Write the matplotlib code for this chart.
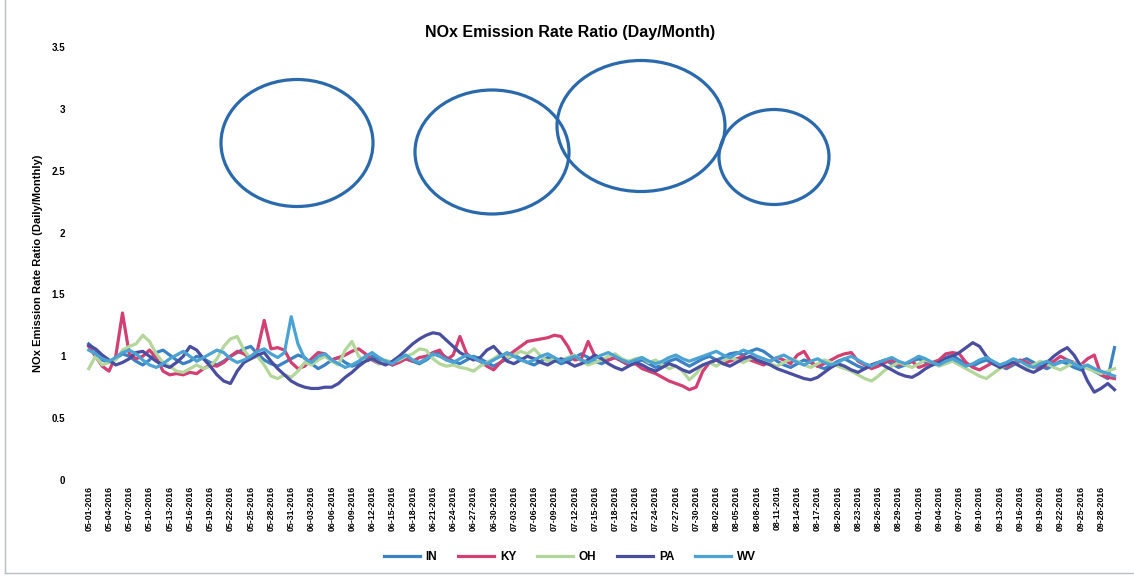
"""
NOx emission rate ratio (day/month) for five states, May-Sep 2016.
"""
import matplotlib

matplotlib.use("Agg")
import matplotlib.pyplot as plt
import pandas as pd
from matplotlib.lines import Line2D
from matplotlib.patches import Ellipse

plt.rcParams["font.family"] = ["Liberation Sans", "DejaVu Sans"]

DATES = pd.date_range("2016-05-01", "2016-09-30", freq="D")
TICK_DATES = DATES[::3]
TICK_LABELS = [d.strftime("%m-%d-%Y") for d in TICK_DATES]

IN = [1.10, 1.05, 0.97, 0.95, 0.98, 1.02, 1.00, 0.96, 0.93, 0.97,
      1.03, 1.05, 1.01, 0.97, 0.94, 0.96, 1.00, 0.98, 0.95, 0.93,
      0.96, 1.00, 1.03, 1.06, 1.08, 1.02, 0.97, 0.94, 0.92, 0.95,
      0.98, 1.01, 0.99, 0.94, 0.90, 0.93, 0.97, 0.99, 0.95, 0.92,
      0.94, 0.97, 1.00, 0.98, 0.95, 0.93, 0.96, 0.98, 0.96, 0.94,
      0.97, 1.01, 1.03, 0.99, 0.96, 0.94, 0.97, 1.00, 0.98, 0.95,
      0.92, 0.95, 0.98, 1.01, 0.98, 0.95, 0.93, 0.96, 0.99, 0.97,
      0.94, 0.96, 0.99, 1.02, 0.99, 0.96, 0.94, 0.97, 0.99, 0.96,
      0.93, 0.95, 0.97, 0.94, 0.91, 0.93, 0.96, 0.98, 0.95, 0.92,
      0.95, 0.98, 1.00, 0.97, 0.99, 1.02, 1.03, 1.01, 1.04, 1.06,
      1.04, 1.00, 0.96, 0.93, 0.91, 0.94, 0.97, 0.95, 0.92, 0.90,
      0.93, 0.96, 0.98, 0.95, 0.92, 0.90, 0.93, 0.95, 0.97, 0.94,
      0.91, 0.93, 0.96, 0.98, 0.95, 0.93, 0.96, 0.99, 1.01, 0.97,
      0.94, 0.92, 0.95, 0.97, 0.94, 0.92, 0.90, 0.93, 0.96, 0.98,
      0.95, 0.92, 0.90, 0.93, 0.96, 0.94, 0.91, 0.89, 0.92, 0.88,
      0.85, 0.82, 1.07]
KY = [1.08, 1.00, 0.92, 0.88, 1.00, 1.35, 1.02, 0.98, 1.00, 1.05,
      0.99, 0.88, 0.85, 0.86, 0.85, 0.87, 0.86, 0.90, 0.93, 0.92,
      0.95, 1.00, 1.04, 1.02, 0.98, 1.05, 1.29, 1.06, 1.07, 1.05,
      0.95, 0.90, 0.92, 0.98, 1.03, 1.02, 0.97, 0.99, 1.01, 1.04,
      1.06, 1.02, 0.97, 0.94, 0.96, 0.93, 0.95, 0.98, 0.96, 0.99,
      1.00, 1.03, 1.05, 0.97, 1.01, 1.16, 1.02, 0.98, 0.96, 0.92,
      0.89, 0.95, 1.00, 1.04, 1.08, 1.12, 1.13, 1.14, 1.15, 1.17,
      1.16, 1.08, 0.97, 0.98, 1.12, 1.00, 0.98, 0.97, 0.99, 0.96,
      0.93, 0.94, 0.90, 0.88, 0.86, 0.83, 0.80, 0.78, 0.76, 0.73,
      0.75, 0.88, 0.95, 0.97, 0.94, 0.96, 0.98, 1.00, 0.97, 0.95,
      0.93, 0.96, 0.99, 0.97, 0.94, 1.01, 1.04, 0.95, 0.92, 0.94,
      0.97, 1.00, 1.02, 1.03, 0.96, 0.93, 0.90, 0.92, 0.95, 0.97,
      0.93, 0.94, 0.96, 0.91, 0.93, 0.95, 0.97, 1.02, 1.03, 1.02,
      0.95, 0.91, 0.89, 0.92, 0.95, 0.93, 0.91, 0.94, 0.97, 0.95,
      0.92, 0.90, 0.93, 0.96, 1.00, 0.97, 0.95, 0.93, 0.98, 1.01,
      0.85, 0.83, 0.82]
OH = [0.90, 1.00, 0.93, 0.95, 0.97, 1.05, 1.08, 1.10, 1.17, 1.12,
      1.02, 0.95, 0.92, 0.88, 0.87, 0.90, 0.93, 0.90, 0.92, 0.98,
      1.08, 1.14, 1.16, 1.05, 0.98, 1.00, 0.93, 0.84, 0.82, 0.85,
      0.83, 0.88, 0.95, 0.93, 0.97, 1.00, 0.96, 0.93, 1.05, 1.12,
      1.00, 0.96, 0.98, 0.94, 0.97, 0.95, 0.97, 1.00, 1.02, 1.06,
      1.05, 0.98, 0.94, 0.92, 0.93, 0.91, 0.90, 0.88, 0.92, 0.95,
      0.98, 1.02, 0.99, 1.01, 1.04, 1.02, 1.06, 1.00, 0.96, 0.98,
      0.97, 0.99, 1.01, 0.96, 0.93, 0.95, 0.97, 1.00, 1.02, 0.98,
      0.96, 0.98, 0.99, 0.95, 0.97, 0.93, 0.90, 0.92, 0.88, 0.81,
      0.86, 0.93, 0.95, 0.92, 0.96, 0.99, 0.97, 0.95, 0.98, 1.00,
      0.97, 0.94, 0.92, 0.95, 0.98, 0.96, 0.93, 0.91, 0.94, 0.97,
      0.95, 0.92, 0.90, 0.88, 0.85, 0.82, 0.80, 0.84, 0.89, 0.92,
      0.95, 0.93, 0.91, 0.94, 0.97, 0.95, 0.92, 0.94, 0.96, 0.93,
      0.90, 0.87, 0.84, 0.82, 0.86, 0.90, 0.93, 0.95, 0.92, 0.90,
      0.93, 0.96, 0.94, 0.91, 0.89, 0.92, 0.95, 0.93, 0.90, 0.88,
      0.86, 0.88, 0.90]
PA = [1.09, 1.06, 1.01, 0.97, 0.93, 0.95, 0.98, 1.03, 1.04, 1.00,
      0.96, 0.93, 0.91, 0.95, 1.00, 1.08, 1.05, 0.98, 0.92, 0.85,
      0.80, 0.78, 0.88, 0.95, 0.98, 1.01, 1.03, 0.96, 0.90, 0.85,
      0.80, 0.77, 0.75, 0.74, 0.74, 0.75, 0.75, 0.78, 0.83, 0.87,
      0.92, 0.96, 0.98, 0.95, 0.93, 0.96, 1.00, 1.05, 1.10, 1.14,
      1.17, 1.19, 1.18, 1.13, 1.08, 1.03, 1.00, 0.97, 0.99, 1.05,
      1.08, 1.02, 0.96, 0.94, 0.97, 1.00, 0.98, 0.95, 0.93, 0.96,
      0.98, 0.95, 0.92, 0.94, 0.97, 1.01, 0.98, 0.94, 0.91, 0.89,
      0.92, 0.95, 0.93, 0.90, 0.88, 0.91, 0.94, 0.92, 0.89, 0.87,
      0.90, 0.93, 0.95, 0.97, 0.94, 0.92, 0.95, 0.98, 1.00, 0.97,
      0.95, 0.93, 0.90, 0.88, 0.86, 0.84, 0.82, 0.81, 0.83, 0.87,
      0.91, 0.94, 0.92, 0.89, 0.87, 0.90, 0.93, 0.95, 0.92, 0.89,
      0.86, 0.84, 0.83, 0.86, 0.90, 0.93, 0.95, 0.98, 1.00, 1.03,
      1.07, 1.11, 1.08, 1.00, 0.94, 0.91, 0.93, 0.95, 0.92, 0.89,
      0.87, 0.90, 0.95, 1.00, 1.04, 1.07, 1.01, 0.92, 0.80, 0.71,
      0.74, 0.78, 0.73]
WV = [1.05, 1.02, 0.98, 0.96, 0.99, 1.03, 1.05, 1.02, 0.97, 0.93,
      0.91, 0.94, 0.98, 1.01, 1.04, 1.00, 0.96, 0.99, 1.02, 1.05,
      1.03, 0.98, 0.95, 0.97, 1.00, 1.04, 1.06, 1.02, 0.99, 1.03,
      1.32, 1.10, 0.98, 0.95, 1.00, 1.02, 0.97, 0.94, 0.91, 0.93,
      0.96, 1.00, 1.03, 0.99, 0.96, 0.94, 0.98, 1.01, 0.97, 0.95,
      0.98, 1.02, 1.00, 0.97, 0.95, 0.98, 1.01, 0.99, 0.96, 0.94,
      0.97, 1.00, 1.03, 1.00, 0.97, 0.95, 0.97, 1.00, 1.02, 0.99,
      0.96, 0.98, 1.00, 0.97, 0.95, 0.98, 1.01, 1.03, 1.00, 0.97,
      0.95, 0.97, 0.99, 0.96, 0.94, 0.96, 0.99, 1.01, 0.98, 0.96,
      0.98, 1.00, 1.02, 1.04, 1.01, 0.99, 1.02, 1.05, 1.03, 1.00,
      0.98, 0.96, 0.99, 1.01, 0.98, 0.95, 0.93, 0.96, 0.98, 0.95,
      0.93, 0.95, 0.98, 1.00, 0.97, 0.94, 0.92, 0.95, 0.97, 0.99,
      0.96, 0.94, 0.97, 1.00, 0.98, 0.95, 0.93, 0.96, 0.98, 0.95,
      0.92, 0.94, 0.97, 0.99, 0.96, 0.93, 0.95, 0.98, 0.96, 0.93,
      0.91, 0.94, 0.96, 0.93, 0.95, 0.97, 0.94, 0.91, 0.93, 0.90,
      0.88, 0.86, 0.84]

SERIES = [
    ("IN", IN, "#3a82c4"),
    ("KY", KY, "#d23f72"),
    ("OH", OH, "#b3d69a"),
    ("PA", PA, "#4a4ea0"),
    ("WV", WV, "#4aa3d3"),
]

# hand-drawn circles on the scanned chart (figure pixels: cx, cy, w, h)
CIRCLES = [(297, 143, 152, 127), (492, 152, 154, 124),
           (641, 126, 168, 131), (774, 157, 110, 95)]

W, H = 1134, 577
fig = plt.figure(figsize=(W / 100, H / 100), dpi=100)
ax = fig.add_axes([82 / W, 1 - 480 / H, (1128 - 82) / W, (480 - 47) / H])

x = list(range(len(DATES)))
for name, vals, color in SERIES:
    ax.plot(x, vals, color=color, lw=2.3, label=name, solid_joinstyle="round")

ax.set_xlim(-1, len(DATES) + 1)
ax.set_ylim(0, 3.5)
ax.set_yticks([0, 0.5, 1, 1.5, 2, 2.5, 3, 3.5])
ax.set_yticklabels(["0", "0.5", "1", "1.5", "2", "2.5", "3", "3.5"],
                   fontsize=7, fontweight="bold")
ax.set_xticks(x[::3])
ax.set_xticklabels(TICK_LABELS, rotation=90, fontsize=6.3, fontweight="bold")
ax.tick_params(axis="both", length=0)
ax.tick_params(axis="y", pad=12)
ax.tick_params(axis="x", pad=4)
for s in ax.spines.values():
    s.set_visible(False)

ax.set_ylabel("NOx Emission Rate Ratio (Daily/Monthly)", fontsize=8,
              fontweight="bold", labelpad=6)
fig.text(0.503, 1 - 33 / H, "NOx Emission Rate Ratio (Day/Month)",
         ha="center", va="center", fontsize=11.5, fontweight="bold")

ax.legend(loc="center", bbox_to_anchor=(570 / W, 1 - 557 / H),
          bbox_transform=fig.transFigure, ncol=5, frameon=False,
          prop={"size": 8.5, "weight": "bold"}, handlelength=3,
          columnspacing=1.8, handletextpad=0.5)

for cx, cy, w, h in CIRCLES:
    fig.patches.append(Ellipse((cx / W, 1 - cy / H), w / W, h / H,
                               transform=fig.transFigure, fill=False,
                               edgecolor="#2a69ab", lw=2.3))

# scanned page edge: left and bottom border only
fig.lines.append(Line2D([5 / W, 5 / W], [4 / H, 1.0], transform=fig.transFigure,
                        color="#b8bcc4", lw=1.0))
fig.lines.append(Line2D([5 / W, 1.0], [4 / H, 4 / H], transform=fig.transFigure,
                        color="#b8bcc4", lw=1.0))

fig.savefig("out.png", dpi=100)
